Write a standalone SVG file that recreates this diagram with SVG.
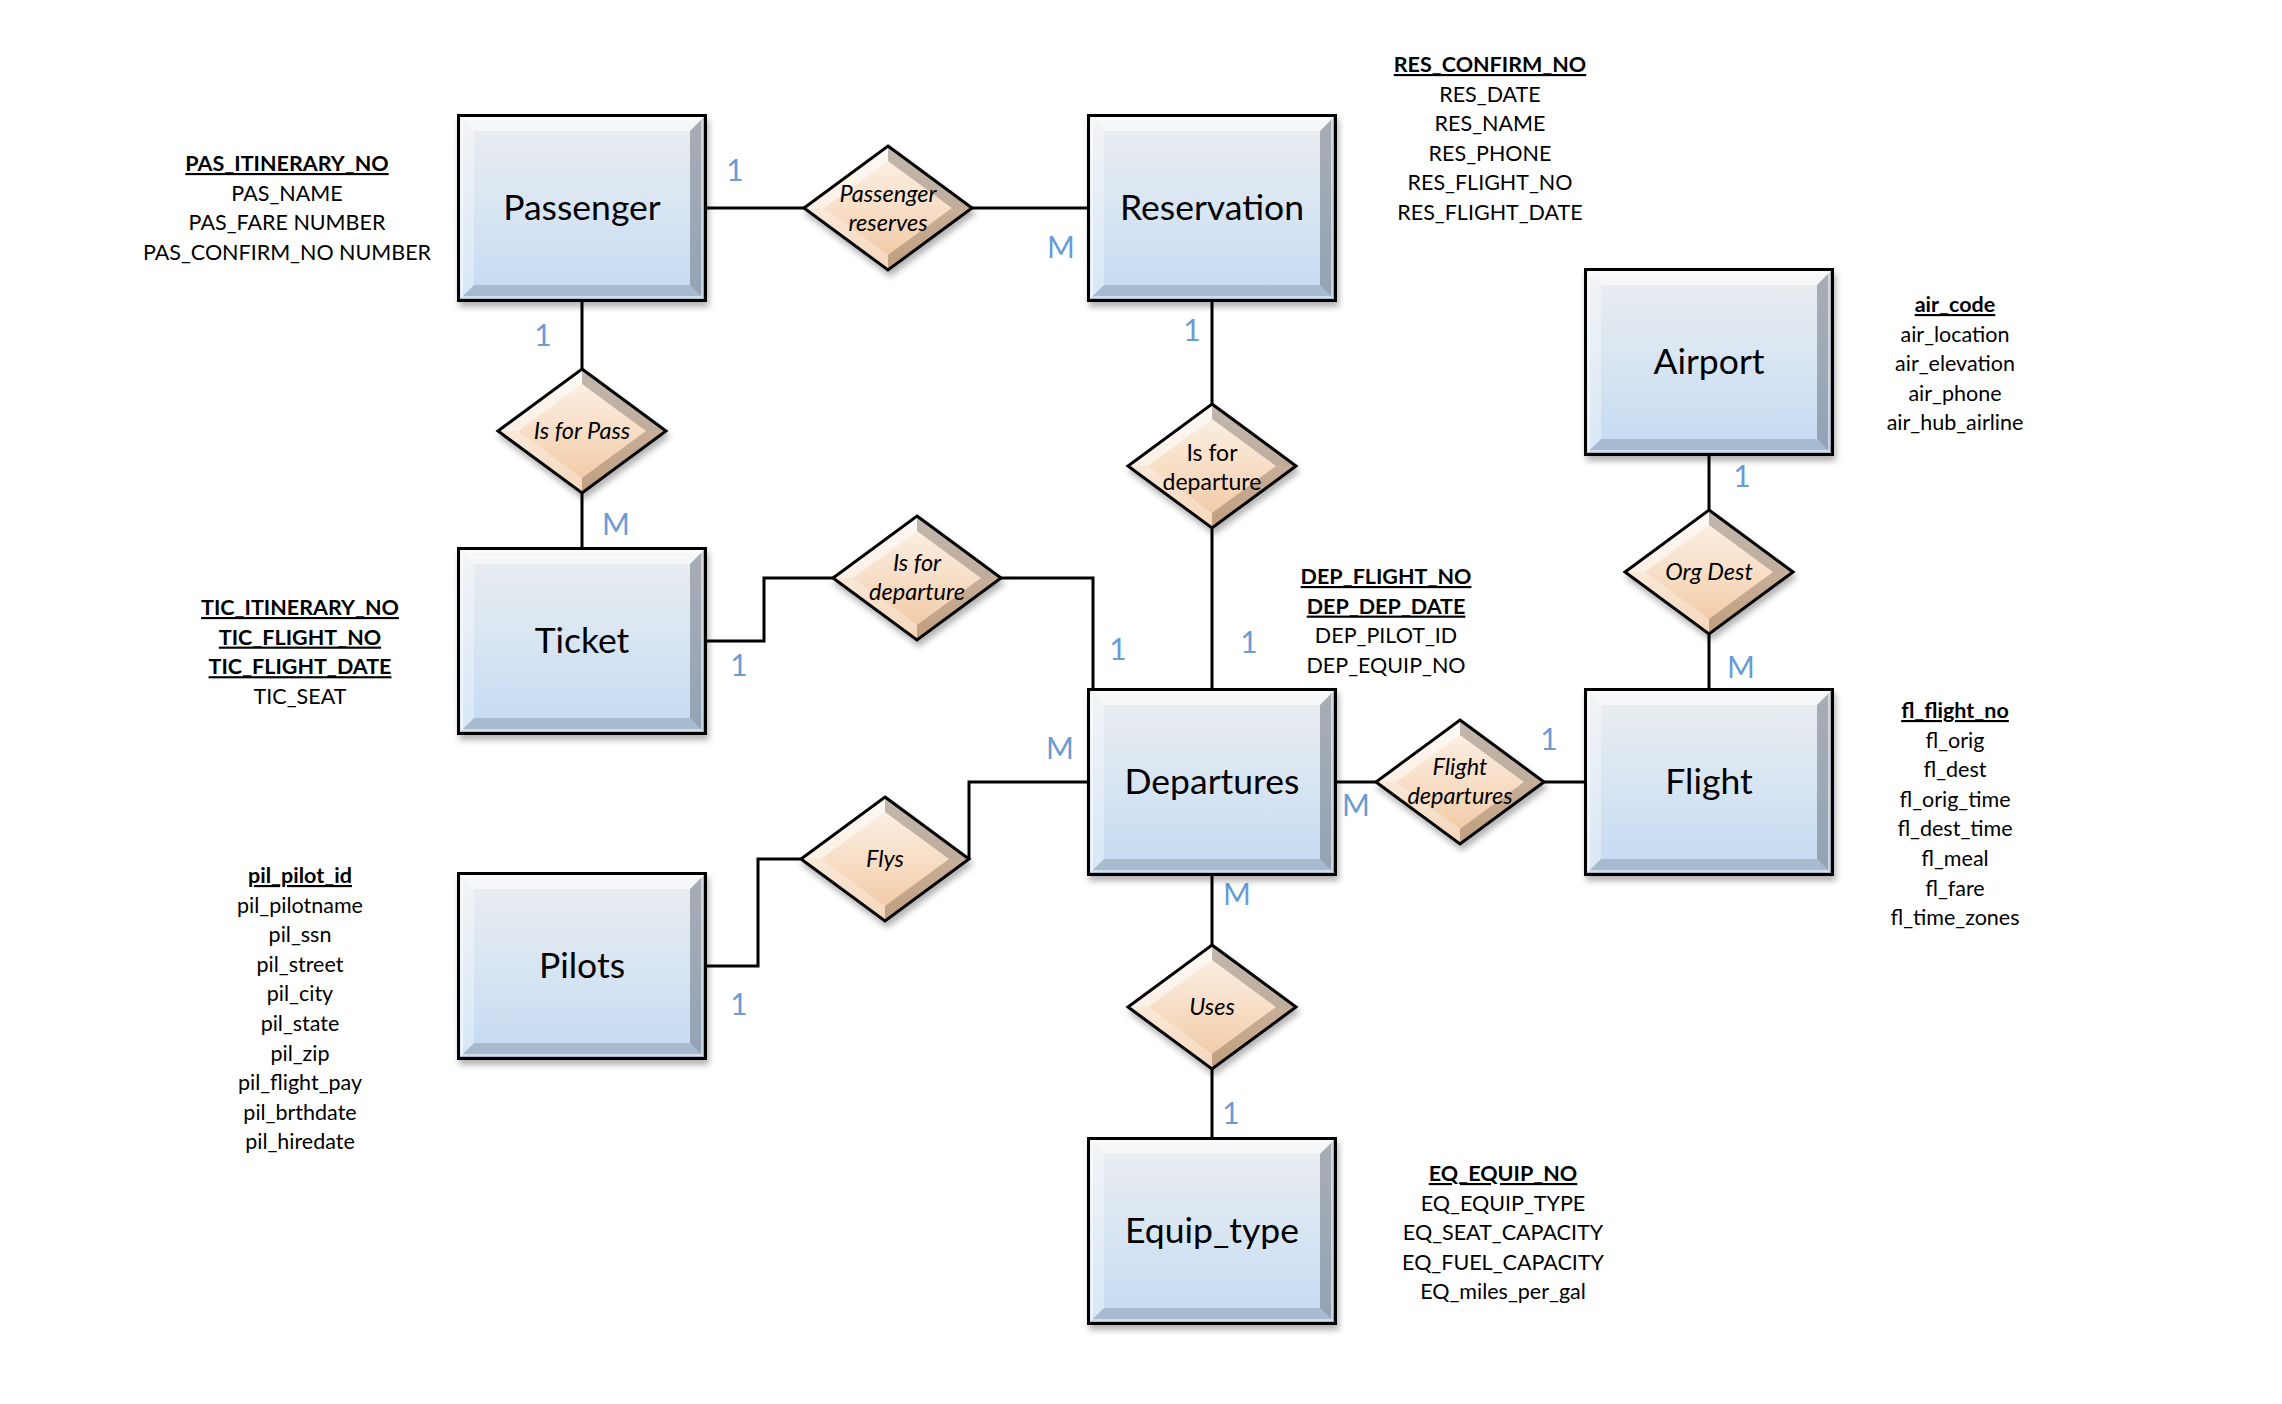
<svg xmlns="http://www.w3.org/2000/svg" xmlns:xlink="http://www.w3.org/1999/xlink" width="2282" height="1404" viewBox="0 0 2282 1404">
<style>
  text { font-family: Lato, "Open Sans", "Liberation Sans", sans-serif; fill: #000; }
  .ent-label { font-size: 35.5px; text-anchor: middle; }
  .attr { font-size: 21.5px; text-anchor: middle; }
  .pk { font-weight: bold; text-decoration: underline; }
  .rel-label { font-size: 23.5px; font-style: italic; text-anchor: middle; }
  .rel-plain { font-size: 23px; text-anchor: middle; }
  .card { font-size: 30px; fill: #6a9bd4; text-anchor: middle; }
  .conn { stroke: #000; stroke-width: 3; fill: none; }
</style>
<defs>
  <linearGradient id="entGrad" x1="0" y1="0" x2="0" y2="1">
    <stop offset="0" stop-color="#eceeef"/>
    <stop offset="0.5" stop-color="#d8e5f2"/>
    <stop offset="1" stop-color="#c3daf3"/>
  </linearGradient>
  <linearGradient id="relGrad" x1="0" y1="0" x2="0" y2="1">
    <stop offset="0" stop-color="#fcf3ea"/>
    <stop offset="0.55" stop-color="#f7dcc3"/>
    <stop offset="1" stop-color="#f0c59e"/>
  </linearGradient>
  <filter id="shadow" x="-10%" y="-10%" width="130%" height="130%">
    <feDropShadow dx="2" dy="5" stdDeviation="3" flood-color="#000" flood-opacity="0.3"/>
  </filter>
  <g id="entShape">
    <rect x="0" y="0" width="250" height="188" fill="url(#entGrad)"/>
    <polygon points="3,3 247,3 233,17 17,17" fill="#ffffff" opacity="0.55"/>
    <polygon points="3,3 17,17 17,171 3,185" fill="#ffffff" opacity="0.35"/>
    <polygon points="247,3 247,185 233,171 233,17" fill="#56606c" opacity="0.45"/>
    <polygon points="3,185 247,185 233,171 17,171" fill="#6f7d8b" opacity="0.35"/>
    <rect x="5" y="5" width="240" height="178" fill="none" stroke="#ffffff" stroke-opacity="0.5" stroke-width="2"/>
    <rect x="1.5" y="1.5" width="247" height="185" fill="none" stroke="#000" stroke-width="3"/>
  </g>
  <g id="relShape">
    <polygon points="0,-62 84,0 0,62 -84,0" fill="url(#relGrad)"/>
    <polygon points="0,-62 -84,0 -64,0 0,-47" fill="#ffffff" opacity="0.55"/>
    <polygon points="0,-62 84,0 64,0 0,-47" fill="#7a6e66" opacity="0.45"/>
    <polygon points="84,0 0,62 0,47 64,0" fill="#6b5646" opacity="0.35"/>
    <polygon points="-84,0 0,62 0,47 -64,0" fill="#ffffff" opacity="0.3"/>
    <polygon points="0,-62 84,0 0,62 -84,0" fill="none" stroke="#000" stroke-width="3" stroke-linejoin="miter"/>
  </g>
</defs>
<rect x="0" y="0" width="2282" height="1404" fill="#ffffff"/>

<g id="connectors">
  <path class="conn" d="M707,208 H804"/>
  <path class="conn" d="M972,208 H1087"/>
  <path class="conn" d="M582,302 V369"/>
  <path class="conn" d="M582,493 V547"/>
  <path class="conn" d="M1212,302 V404"/>
  <path class="conn" d="M1212,528 V688"/>
  <path class="conn" d="M707,641 H764 V578 H833"/>
  <path class="conn" d="M1001,578 H1093 V688"/>
  <path class="conn" d="M707,966 H758 V859 H801"/>
  <path class="conn" d="M969,859 V782 H1087"/>
  <path class="conn" d="M1337,782 H1376"/>
  <path class="conn" d="M1544,782 H1584"/>
  <path class="conn" d="M1709,456 V510"/>
  <path class="conn" d="M1709,634 V688"/>
  <path class="conn" d="M1212,876 V945"/>
  <path class="conn" d="M1212,1069 V1137"/>
</g>

<g id="cardinalities">
  <text class="card" x="735" y="181">1</text>
  <text class="card" x="1061" y="258">M</text>
  <text class="card" x="543" y="346">1</text>
  <text class="card" x="616" y="535">M</text>
  <text class="card" x="1192" y="341">1</text>
  <text class="card" x="739" y="676">1</text>
  <text class="card" x="1118" y="660">1</text>
  <text class="card" x="1249" y="653">1</text>
  <text class="card" x="1060" y="759">M</text>
  <text class="card" x="739" y="1015">1</text>
  <text class="card" x="1356" y="816">M</text>
  <text class="card" x="1549" y="750">1</text>
  <text class="card" x="1742" y="487">1</text>
  <text class="card" x="1741" y="678">M</text>
  <text class="card" x="1237" y="905">M</text>
  <text class="card" x="1231" y="1124">1</text>
</g>

<g id="passenger">
  <use href="#entShape" x="457" y="114" filter="url(#shadow)"/>
  <text class="ent-label" x="582" y="220">Passenger</text>
</g>
<g id="reservation">
  <use href="#entShape" x="1087" y="114" filter="url(#shadow)"/>
  <text class="ent-label" x="1212" y="220">Reservation</text>
</g>
<g id="airport">
  <use href="#entShape" x="1584" y="268" filter="url(#shadow)"/>
  <text class="ent-label" x="1709" y="374">Airport</text>
</g>
<g id="ticket">
  <use href="#entShape" x="457" y="547" filter="url(#shadow)"/>
  <text class="ent-label" x="582" y="653">Ticket</text>
</g>
<g id="departures">
  <use href="#entShape" x="1087" y="688" filter="url(#shadow)"/>
  <text class="ent-label" x="1212" y="794">Departures</text>
</g>
<g id="flight">
  <use href="#entShape" x="1584" y="688" filter="url(#shadow)"/>
  <text class="ent-label" x="1709" y="794">Flight</text>
</g>
<g id="pilots">
  <use href="#entShape" x="457" y="872" filter="url(#shadow)"/>
  <text class="ent-label" x="582" y="978">Pilots</text>
</g>
<g id="equip_type">
  <use href="#entShape" x="1087" y="1137" filter="url(#shadow)"/>
  <text class="ent-label" x="1212" y="1243">Equip_type</text>
</g>

<g id="rel-passenger-reserves">
  <use href="#relShape" x="888" y="208" filter="url(#shadow)"/>
  <text class="rel-label" x="888" y="202">Passenger</text>
  <text class="rel-label" x="888" y="231">reserves</text>
</g>
<g id="rel-is-for-pass">
  <use href="#relShape" x="582" y="431" filter="url(#shadow)"/>
  <text class="rel-label" x="582" y="439">Is for Pass</text>
</g>
<g id="rel-is-for-departure-res">
  <use href="#relShape" x="1212" y="466" filter="url(#shadow)"/>
  <text class="rel-plain" x="1212" y="461">Is for</text>
  <text class="rel-plain" x="1212" y="490">departure</text>
</g>
<g id="rel-is-for-departure-tic">
  <use href="#relShape" x="917" y="578" filter="url(#shadow)"/>
  <text class="rel-label" x="917" y="571">Is for</text>
  <text class="rel-label" x="917" y="600">departure</text>
</g>
<g id="rel-org-dest">
  <use href="#relShape" x="1709" y="572" filter="url(#shadow)"/>
  <text class="rel-label" x="1709" y="580">Org Dest</text>
</g>
<g id="rel-flight-departures">
  <use href="#relShape" x="1460" y="782" filter="url(#shadow)"/>
  <text class="rel-label" x="1460" y="775">Flight</text>
  <text class="rel-label" x="1460" y="804">departures</text>
</g>
<g id="rel-flys">
  <use href="#relShape" x="885" y="859" filter="url(#shadow)"/>
  <text class="rel-label" x="885" y="867">Flys</text>
</g>
<g id="rel-uses">
  <use href="#relShape" x="1212" y="1007" filter="url(#shadow)"/>
  <text class="rel-label" x="1212" y="1015">Uses</text>
</g>

<g id="attrs-passenger">
  <text class="attr" x="287" y="171"><tspan class="pk">PAS_ITINERARY_NO</tspan><tspan x="287" dy="29.6">PAS_NAME</tspan><tspan x="287" dy="29.6">PAS_FARE NUMBER</tspan><tspan x="287" dy="29.6">PAS_CONFIRM_NO NUMBER</tspan></text>
</g>
<g id="attrs-reservation">
  <text class="attr" x="1490" y="72"><tspan class="pk">RES_CONFIRM_NO</tspan><tspan x="1490" dy="29.5">RES_DATE</tspan><tspan x="1490" dy="29.5">RES_NAME</tspan><tspan x="1490" dy="29.5">RES_PHONE</tspan><tspan x="1490" dy="29.5">RES_FLIGHT_NO</tspan><tspan x="1490" dy="29.5">RES_FLIGHT_DATE</tspan></text>
</g>
<g id="attrs-airport">
  <text class="attr" x="1955" y="312"><tspan class="pk">air_code</tspan><tspan x="1955" dy="29.5">air_location</tspan><tspan x="1955" dy="29.5">air_elevation</tspan><tspan x="1955" dy="29.5">air_phone</tspan><tspan x="1955" dy="29.5">air_hub_airline</tspan></text>
</g>
<g id="attrs-ticket">
  <text class="attr" x="300" y="615"><tspan class="pk">TIC_ITINERARY_NO</tspan><tspan x="300" dy="29.6" class="pk">TIC_FLIGHT_NO</tspan><tspan x="300" dy="29.6" class="pk">TIC_FLIGHT_DATE</tspan><tspan x="300" dy="29.6">TIC_SEAT</tspan></text>
</g>
<g id="attrs-departures">
  <text class="attr" x="1386" y="584"><tspan class="pk">DEP_FLIGHT_NO</tspan><tspan x="1386" dy="29.6" class="pk">DEP_DEP_DATE</tspan><tspan x="1386" dy="29.6">DEP_PILOT_ID</tspan><tspan x="1386" dy="29.6">DEP_EQUIP_NO</tspan></text>
</g>
<g id="attrs-flight">
  <text class="attr" x="1955" y="718"><tspan class="pk">fl_flight_no</tspan><tspan x="1955" dy="29.6">fl_orig</tspan><tspan x="1955" dy="29.6">fl_dest</tspan><tspan x="1955" dy="29.6">fl_orig_time</tspan><tspan x="1955" dy="29.6">fl_dest_time</tspan><tspan x="1955" dy="29.6">fl_meal</tspan><tspan x="1955" dy="29.6">fl_fare</tspan><tspan x="1955" dy="29.6">fl_time_zones</tspan></text>
</g>
<g id="attrs-pilots">
  <text class="attr" x="300" y="883"><tspan class="pk">pil_pilot_id</tspan><tspan x="300" dy="29.6">pil_pilotname</tspan><tspan x="300" dy="29.6">pil_ssn</tspan><tspan x="300" dy="29.6">pil_street</tspan><tspan x="300" dy="29.6">pil_city</tspan><tspan x="300" dy="29.6">pil_state</tspan><tspan x="300" dy="29.6">pil_zip</tspan><tspan x="300" dy="29.6">pil_flight_pay</tspan><tspan x="300" dy="29.6">pil_brthdate</tspan><tspan x="300" dy="29.6">pil_hiredate</tspan></text>
</g>
<g id="attrs-equip">
  <text class="attr" x="1503" y="1181"><tspan class="pk">EQ_EQUIP_NO</tspan><tspan x="1503" dy="29.6">EQ_EQUIP_TYPE</tspan><tspan x="1503" dy="29.6">EQ_SEAT_CAPACITY</tspan><tspan x="1503" dy="29.6">EQ_FUEL_CAPACITY</tspan><tspan x="1503" dy="29.6">EQ_miles_per_gal</tspan></text>
</g>
</svg>
